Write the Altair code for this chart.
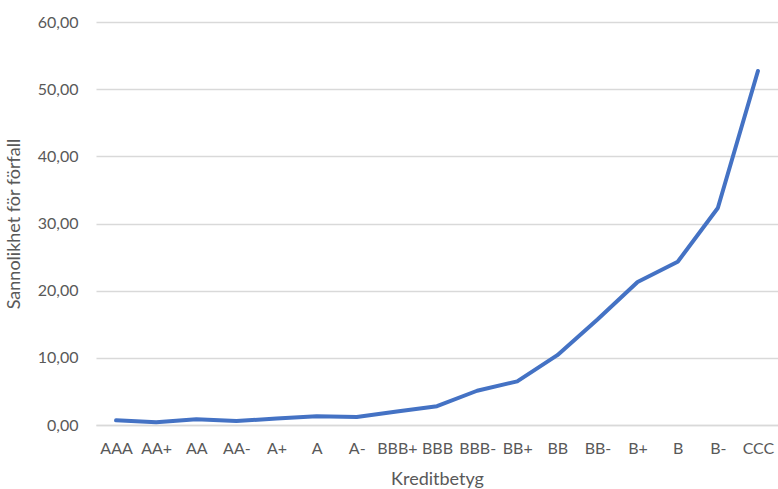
import altair as alt
import pandas as pd

ratings = ["AAA", "AA+", "AA", "AA-", "A+", "A", "A-", "BBB+", "BBB", "BBB-",
           "BB+", "BB", "BB-", "B+", "B", "B-", "CCC"]
default_prob = [0.70, 0.40, 0.85, 0.60, 0.95, 1.30, 1.20, 2.00, 2.80, 5.10,
                6.50, 10.40, 15.70, 21.30, 24.30, 32.30, 52.70]

df = pd.DataFrame({"Kreditbetyg": ratings, "Sannolikhet": default_prob})

text_color = "#595959"
font = "Lato"

chart = (
    alt.Chart(df)
    .mark_line(color="#4472C4", strokeWidth=4, strokeCap="round", strokeJoin="round")
    .encode(
        x=alt.X(
            "Kreditbetyg:N",
            sort=ratings,
            scale=alt.Scale(padding=0.5),
            axis=alt.Axis(
                title="Kreditbetyg",
                labelAngle=0,
                ticks=False,
                domain=True,
                domainColor="#d9d9d9",
                domainWidth=1.5,
                labelPadding=15,
                titlePadding=14,
                grid=False,
            ),
        ),
        y=alt.Y(
            "Sannolikhet:Q",
            scale=alt.Scale(domain=[0, 60], nice=False),
            axis=alt.Axis(
                title="Sannolikhet för förfall",
                values=[0, 10, 20, 30, 40, 50, 60],
                labelExpr="replace(format(datum.value, '.2f'), '.', ',')",
                ticks=False,
                domain=False,
                gridColor="#d9d9d9",
                gridWidth=1.5,
                labelPadding=18,
                titlePadding=14,
            ),
        ),
    )
    .properties(
        width=682,
        height=403,
        autosize=alt.AutoSizeParams(type="none"),
        padding={"left": 96, "top": 22, "right": 0, "bottom": 64},
    )
    .configure_view(stroke=None)
    .configure_axis(
        labelFont=font,
        titleFont=font,
        labelFontSize=16,
        titleFontSize=18,
        titleFontWeight="normal",
        labelColor=text_color,
        titleColor=text_color,
    )
)

chart.save("out.html", embed_options={"renderer": "svg", "actions": False})
